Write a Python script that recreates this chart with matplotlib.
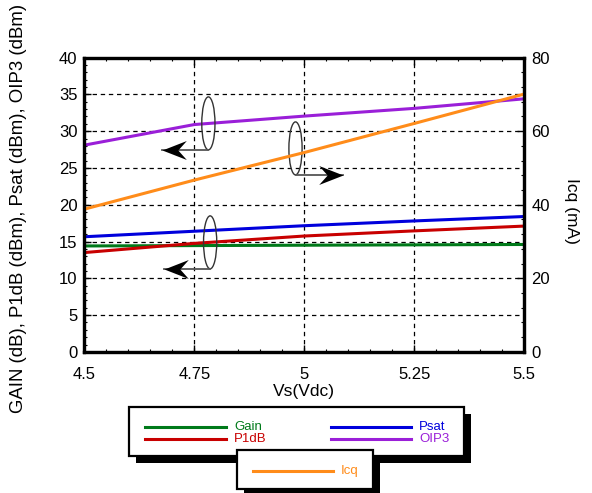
import matplotlib
matplotlib.use("Agg")
import matplotlib.pyplot as plt
from matplotlib.patches import Ellipse, Rectangle
from matplotlib.lines import Line2D
from matplotlib.path import Path
from matplotlib.ticker import MultipleLocator

plt.rcParams['font.family'] = ['Liberation Sans', 'DejaVu Sans']

# data
vs = [4.5, 4.75, 5.0, 5.25, 5.5]
gain = [14.4, 14.45, 14.5, 14.55, 14.6]
p1db = [13.5, 14.75, 15.75, 16.45, 17.1]
psat = [15.65, 16.4, 17.15, 17.8, 18.4]
oip3 = [28.1, 30.9, 32.05, 33.1, 34.4]
icq = [38.8, 46.7, 54.2, 62.1, 70.1]

colors = {'Gain': '#007a1a', 'P1dB': '#c80000', 'Psat': '#0000dc',
          'OIP3': '#9a1fd8', 'Icq': '#ff8c1a'}

W, H = 592, 493
fig = plt.figure(figsize=(W / 100, H / 100), dpi=100)
ax = fig.add_axes([84.3 / W, 1 - 351.9 / H, 440 / W, 294.3 / H])
ax2 = ax.twinx()

ax.plot(vs, gain, color=colors['Gain'], lw=2.2)
ax.plot(vs, p1db, color=colors['P1dB'], lw=2.2)
ax.plot(vs, psat, color=colors['Psat'], lw=2.2)
ax.plot(vs, oip3, color=colors['OIP3'], lw=2.2)
ax2.plot(vs, icq, color=colors['Icq'], lw=2.2)

ax.set_xlim(4.5, 5.5)
ax.set_ylim(0, 40)
ax2.set_ylim(0, 80)
ax.set_xticks([4.5, 4.75, 5.0, 5.25, 5.5])
ax.set_xticklabels(['4.5', '4.75', '5', '5.25', '5.5'])
ax.xaxis.set_minor_locator(MultipleLocator(0.05))
ax.yaxis.set_major_locator(MultipleLocator(5))
ax.yaxis.set_minor_locator(MultipleLocator(1))
ax2.yaxis.set_major_locator(MultipleLocator(20))
ax2.yaxis.set_minor_locator(MultipleLocator(4))

ax.grid(True, which='major', color='black', linestyle=(0, (3.5, 3)), lw=0.9)
ax.tick_params(which='both', direction='in', top=True, labelsize=12, color='black')
ax.tick_params(axis='y', pad=5)
ax.tick_params(axis='x', pad=11)
ax.tick_params(which='major', length=5, width=1)
ax.tick_params(which='minor', length=2.5, width=0.8)
ax2.tick_params(which='both', direction='in', labelsize=12, pad=5)
ax2.tick_params(which='major', length=5, width=1)
ax2.tick_params(which='minor', length=2.5, width=0.8)
for a in (ax, ax2):
    for sp in a.spines.values():
        sp.set_linewidth(2.3)

ax.set_xlabel('Vs(Vdc)', fontsize=12.5, labelpad=1)
ax.set_ylabel('GAIN (dB), P1dB (dBm), Psat (dBm), OIP3 (dBm)', fontsize=13.4)
ax.yaxis.set_label_coords(-0.130, 0.489)
ax2.set_ylabel('Icq (mA)', fontsize=12.5, rotation=-90, va='center')
ax2.yaxis.set_label_coords(1.108, 0.48)

# ellipses with arrows pointing to their axis
head_r = Path([(0, 0), (-1, 0.39), (-0.65, 0), (-1, -0.39), (0, 0)], closed=True)
head_l = Path([(0, 0), (1, 0.39), (0.65, 0), (1, -0.39), (0, 0)], closed=True)
marks = [(4.782, 31.06, 4.676, head_l), (4.98, 27.66, 5.087, head_r), (4.786, 14.89, 4.681, head_l)]
for cx, cy, tip, head in marks:
    ax2.add_patch(Ellipse((cx, cy), 0.03, 7.2, fill=False, ec='#333333', lw=1.0,
                          transform=ax.transData))
    yb = cy - 3.6
    ax2.plot([cx, tip], [yb, yb], color='#555555', lw=1.3, transform=ax.transData)
    ax2.plot([tip], [yb], marker=head, ms=35, color='black', mec='black', mew=0,
             transform=ax.transData)


# legend boxes drawn in pixel positions
def fx(x):
    return x / W


def fy(y):
    return 1 - y / H


def box(x0, y0, x1, y1, z):
    fig.add_artist(Rectangle((fx(x0 + 7), fy(y1 + 7)), (x1 - x0) / W, (y1 - y0) / H,
                             transform=fig.transFigure, fc='black', ec='none', zorder=z))
    fig.add_artist(Rectangle((fx(x0), fy(y1)), (x1 - x0) / W, (y1 - y0) / H,
                             transform=fig.transFigure, fc='white', ec='black', lw=1.6,
                             zorder=z + 0.1))


def entry(x0, x1, y, name, z):
    fig.add_artist(Line2D([fx(x0), fx(x1)], [fy(y), fy(y)], transform=fig.transFigure,
                          color=colors[name], lw=2.2, zorder=z))
    fig.text(fx(x1 + 8), fy(y), name, color=colors[name], fontsize=9.5, va='center',
             zorder=z)


box(129, 406.5, 464, 456, 10)
entry(145, 226, 427, 'Gain', 11)
entry(145, 226, 439, 'P1dB', 11)
entry(331, 411, 427, 'Psat', 11)
entry(331, 411, 439, 'OIP3', 11)
box(236.5, 450, 373, 489, 20)
entry(253, 333, 471, 'Icq', 21)

fig.savefig('out.png', dpi=100)
